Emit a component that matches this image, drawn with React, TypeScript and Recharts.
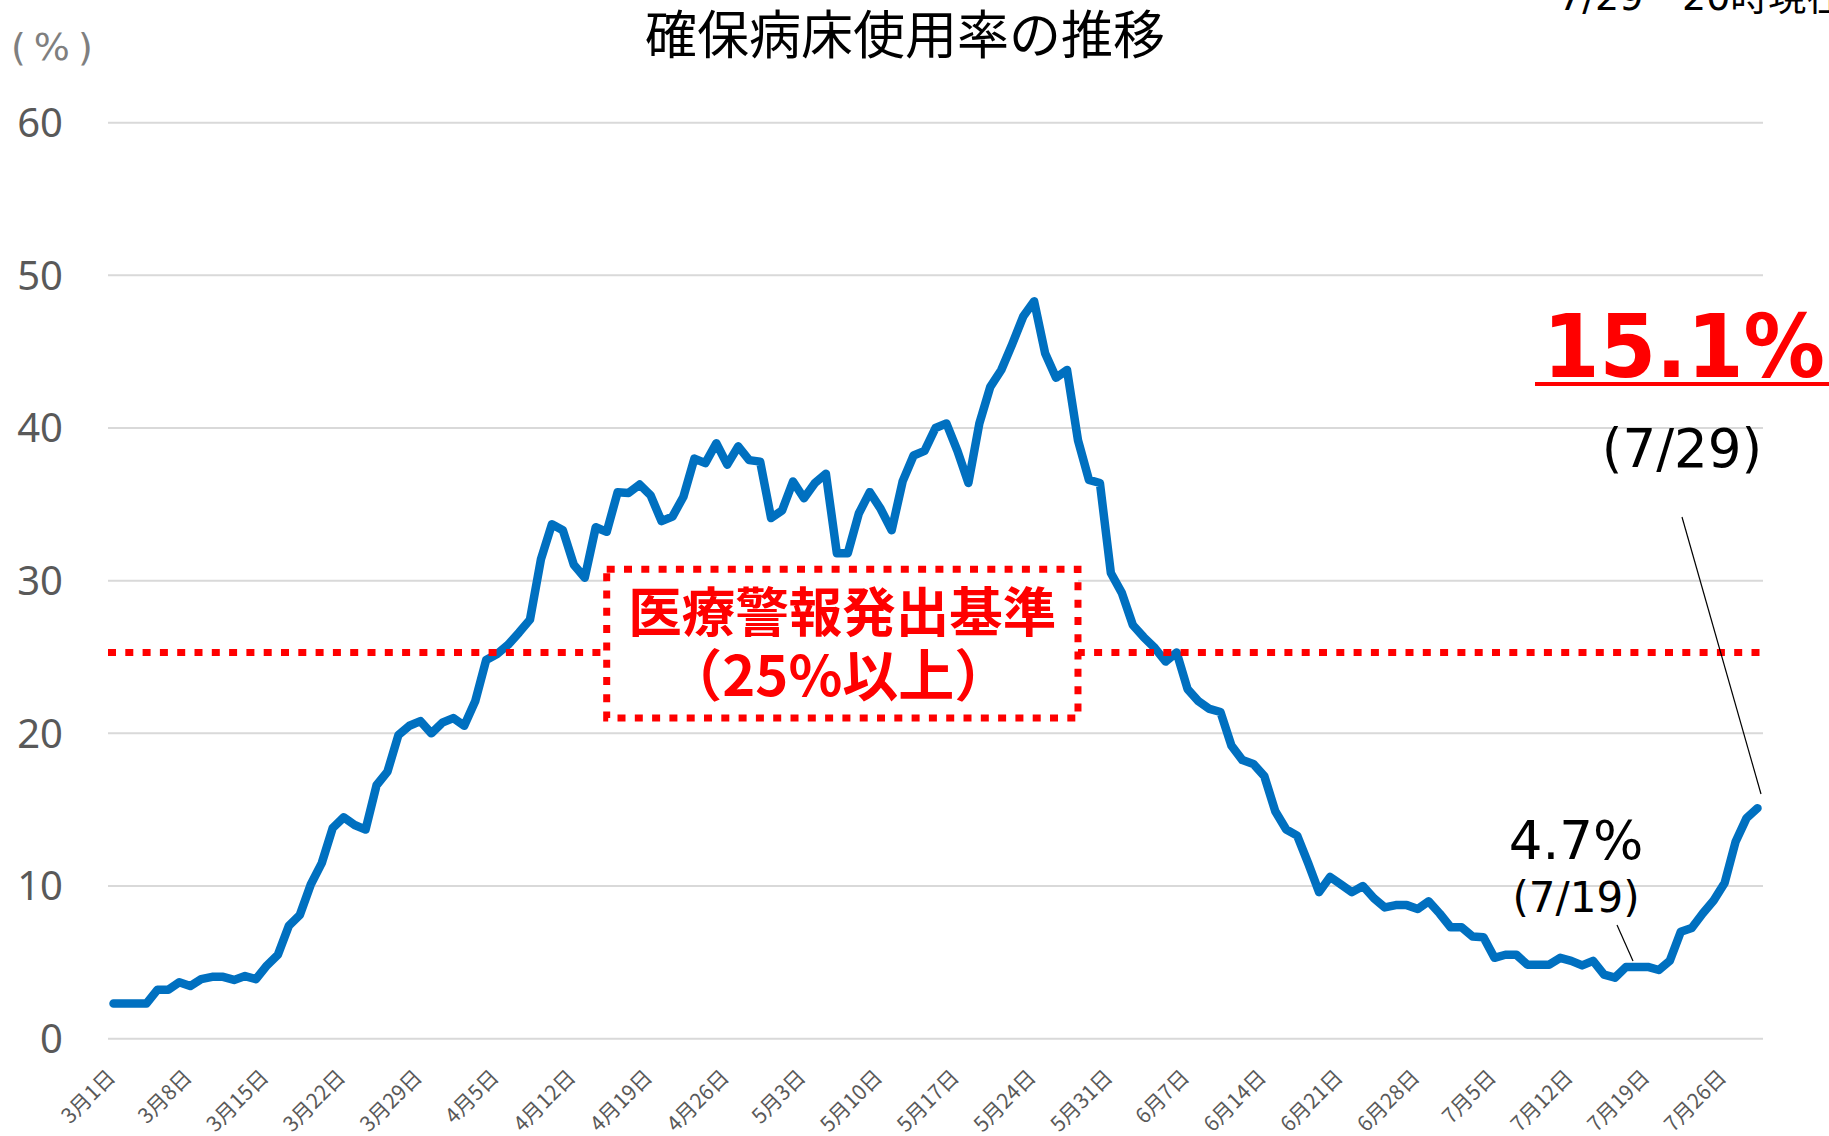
import React from 'react';
import { LineChart, Line, XAxis, YAxis, CartesianGrid, ReferenceLine, ReferenceArea } from 'recharts';

// ---- data ----
const months = [3, 4, 5, 6, 7];
const daysInMonth = [31, 30, 31, 30, 29];
const dates: string[] = [];
months.forEach((m, i) => {
  for (let d = 1; d <= daysInMonth[i]; d++) dates.push(`${m}月${d}日`);
});

// 確保病床使用率 (%) 3/1 .. 7/29
const usageRate = [
  2.3, 2.3, 2.3, 2.3, 3.2, 3.2, 3.7, 3.45, 3.9, 4.05,
  4.05, 3.85, 4.1, 3.9, 4.8, 5.5, 7.4, 8.1, 10.1, 11.5,
  13.8, 14.5, 14.0, 13.7, 16.6, 17.5, 19.9, 20.5, 20.8, 20.0,
  20.7, 21.0, 20.5, 22.1, 24.8, 25.2, 25.8, 26.6, 27.45, 31.4,
  33.7, 33.3, 31.05, 30.2, 33.5, 33.2, 35.8, 35.75, 36.3, 35.6,
  33.9, 34.2, 35.5, 38.0, 37.7, 39.0, 37.6, 38.8, 37.9, 37.8,
  34.1, 34.6, 36.5, 35.4, 36.4, 37.0, 31.8, 31.8, 34.4, 35.8,
  34.7, 33.3, 36.5, 38.2, 38.5, 40.0, 40.3, 38.5, 36.4, 40.3,
  42.7, 43.8, 45.5, 47.3, 48.3, 44.9, 43.3, 43.8, 39.2, 36.6,
  36.4, 30.5, 29.2, 27.1, 26.3, 25.6, 24.7, 25.3, 22.9, 22.1,
  21.6, 21.4, 19.2, 18.25, 18.0, 17.2, 14.9, 13.7, 13.3, 11.5,
  9.6, 10.6, 10.1, 9.6, 10.0, 9.2, 8.6, 8.75, 8.75, 8.5,
  9.0, 8.2, 7.3, 7.3, 6.7, 6.65, 5.3, 5.5, 5.5, 4.85,
  4.85, 4.85, 5.3, 5.1, 4.8, 5.1, 4.2, 4.0, 4.7, 4.7,
  4.7, 4.5, 5.1, 7.0, 7.25, 8.2, 9.05, 10.2, 12.9, 14.45,
  15.1,
];

const yTicks = [0, 10, 20, 30, 40, 50, 60];
const alertLevel = 25.3;
const alertBox = { x1: '4月15日', x2: '5月28日', y1: 21.0, y2: 30.75 };

const data = dates.map((date, i) => ({ date, rate: usageRate[i] }));

const W = 1829;
const H = 1136;
const CJK = "'Noto Sans CJK JP', sans-serif";
const LATIN = "'DejaVu Sans', 'Noto Sans CJK JP', sans-serif";

const XTick = (props: any) => {
  const { x, y, payload } = props;
  const tx = x + 3;
  const ty = y + 40;
  return (
    <text x={tx} y={ty} transform={`rotate(-45 ${tx} ${ty})`} textAnchor="end"
      fontSize={21} fill="#595959" fontFamily={CJK}>
      {payload.value}
    </text>
  );
};

const YTick = (props: any) => {
  const { x, y, payload } = props;
  return (
    <text x={x} y={y} dy="0.36em" textAnchor="end" fontSize={40} fill="#595959"
      fontFamily="'Noto Sans', sans-serif">
      {payload.value}
    </text>
  );
};

const BoxLabel = (props: any) => {
  const vb = props.viewBox || {};
  const cx = vb.x + vb.width / 2;
  return (
    <g>
      <text x={cx} y={vb.y + 63} textAnchor="middle" fontSize={53.5} fontWeight="bold"
        fill="#FF0000" fontFamily={CJK}>医療警報発出基準</text>
      <text x={cx - 4} y={vb.y + 127} textAnchor="middle" fontSize={56} fontWeight="bold"
        fill="#FF0000" fontFamily={CJK}>（25%以上）</text>
    </g>
  );
};

export default function App() {
  const areaProps: any = { zIndex: 1500 };
  return (
    <div style={{ position: 'absolute', left: 0, top: 0, width: W, height: H, background: '#fff' }}>
      <LineChart width={W} height={H} data={data}
        margin={{ top: 122.7, right: 66, bottom: 0, left: 0 }}>
        <CartesianGrid vertical={false} stroke="#D9D9D9" strokeWidth={2} />
        <XAxis dataKey="date" interval={6} tickLine={false} axisLine={false}
          tickSize={0} tickMargin={0} height={97.3}
          padding={{ left: 5.5, right: 5.5 }} tick={<XTick />} />
        <YAxis domain={[0, 60]} ticks={yTicks} width={108} tickLine={false} axisLine={false}
          tickSize={0} tickMargin={45} tick={<YTick />} />
        <Line type="linear" dataKey="rate" stroke="#0070C0" strokeWidth={8.5} dot={false}
          strokeLinejoin="round" strokeLinecap="round" isAnimationActive={false} />
        <ReferenceLine y={alertLevel} stroke="#FF0000" strokeWidth={7} strokeDasharray="8 9.3" />
        <ReferenceArea {...areaProps} x1={alertBox.x1} x2={alertBox.x2} y1={alertBox.y1} y2={alertBox.y2}
          fill="#FFFFFF" fillOpacity={1} stroke="#FF0000" strokeWidth={7} strokeDasharray="8 9.3"
          label={<BoxLabel />} />
      </LineChart>
      <svg width={W} height={H} style={{ position: 'absolute', left: 0, top: 0, pointerEvents: 'none' }}>
        <text x={905} y={54} textAnchor="middle" fontSize={52} fill="#000" fontFamily={CJK}>確保病床使用率の推移</text>
        <text x={11} y={60} fontSize={38} letterSpacing={8} fill="#7F7F7F" fontFamily={LATIN}>(%)</text>
        <text x={1558} y={10} fontSize={38} fill="#000" fontFamily={LATIN}>7/29</text>
        <text x={1682} y={10} fontSize={38} fill="#000" fontFamily={LATIN}>20時現在</text>
        <text x={1543} y={377} fontSize={88} fontWeight="bold" fill="#FF0000" fontFamily={LATIN}
          textLength={282} lengthAdjust="spacingAndGlyphs">15.1%</text>
        <line x1={1535} y1={384} x2={1829} y2={384} stroke="#FF0000" strokeWidth={4} />
        <text x={1682} y={467} textAnchor="middle" fontSize={53} fill="#000" fontFamily={LATIN}>(7/29)</text>
        <line x1={1682} y1={517} x2={1761} y2={794} stroke="#000" strokeWidth={1.2} />
        <text x={1576} y={859} textAnchor="middle" fontSize={53} fill="#000" fontFamily={LATIN}>4.7%</text>
        <text x={1576} y={912} textAnchor="middle" fontSize={42} fill="#000" fontFamily={LATIN}>(7/19)</text>
        <line x1={1617} y1={925} x2={1633} y2={961} stroke="#000" strokeWidth={1.2} />
      </svg>
    </div>
  );
}
